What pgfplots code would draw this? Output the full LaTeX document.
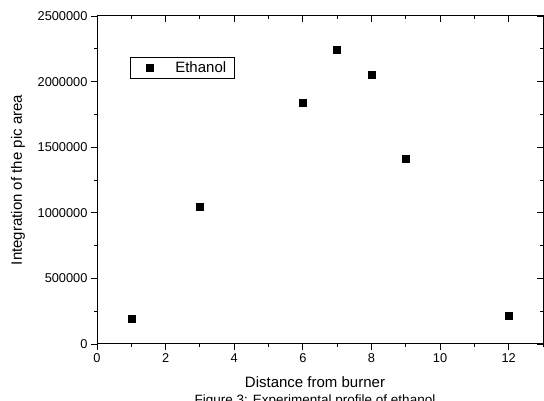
\documentclass[border=0pt]{standalone}
\usepackage{fontspec}
\setmainfont{Liberation Sans}
\usepackage{pgfplots}
\pgfplotsset{compat=1.18}
\begin{document}
\begin{tikzpicture}[x=1pt,y=1pt]
\useasboundingbox (0,0) rectangle (544,401);
\clip (0,0) rectangle (544,401);
\pgfplotsset{
  base/.style={
    at={(97pt,57pt)}, anchor=south west,
    scale only axis, width=446pt, height=328pt,
    xmin=0, xmax=13, ymin=0, ymax=2500000,
    xtick={0,2,...,12}, minor xtick={1,3,...,13},
    ytick={0,500000,...,2500000}, minor ytick={250000,750000,...,2250000},
    scaled y ticks=false,
    axis line style={line width=1pt},
    every tick/.style={black, line width=0.9pt},
    major tick length=6pt, minor tick length=3pt,
  }
}
\begin{axis}[base,
    tick align=outside, xtick pos=bottom, ytick pos=left,
    tick label style={font=\fontsize{12.8}{15}\selectfont},
    /pgf/number format/assume math mode=true,
    /pgf/number format/fixed, /pgf/number format/1000 sep={},
    legend style={at={(0.074,0.875)}, anchor=north west, draw=black, line width=0.8pt,
      font=\fontsize{15}{17}\selectfont, inner xsep=6pt, inner ysep=2.5pt,
      legend cell align=left},
    legend image code/.code={\path (0pt,0pt); \draw[#1, draw=none] plot coordinates {(13pt,0pt)};},
  ]
  \addplot[only marks, mark=square*, mark size=3.5pt, color=black] coordinates {
    (1,190000) (3,1050000) (6,1840000) (7,2240000) (8,2050000) (9,1410000) (12,215000)
  };
  \addlegendentry{\hspace*{20pt}Ethanol}
\end{axis}
\begin{axis}[base,
    tick align=inside, xtick pos=top, ytick pos=right,
    xticklabels={}, yticklabels={},
  ]
\end{axis}
\node[anchor=base, font=\fontsize{15}{17}\selectfont] at (315,13) {Distance from burner};
\node[rotate=90, anchor=center, font=\fontsize{15}{17}\selectfont] at (18,221) {Integration of the pic area};
\node[anchor=base, font=\fontsize{13.5}{15}\selectfont] at (315,-3.5) {Figure 3: Experimental profile of ethanol};
\end{tikzpicture}
\end{document}
